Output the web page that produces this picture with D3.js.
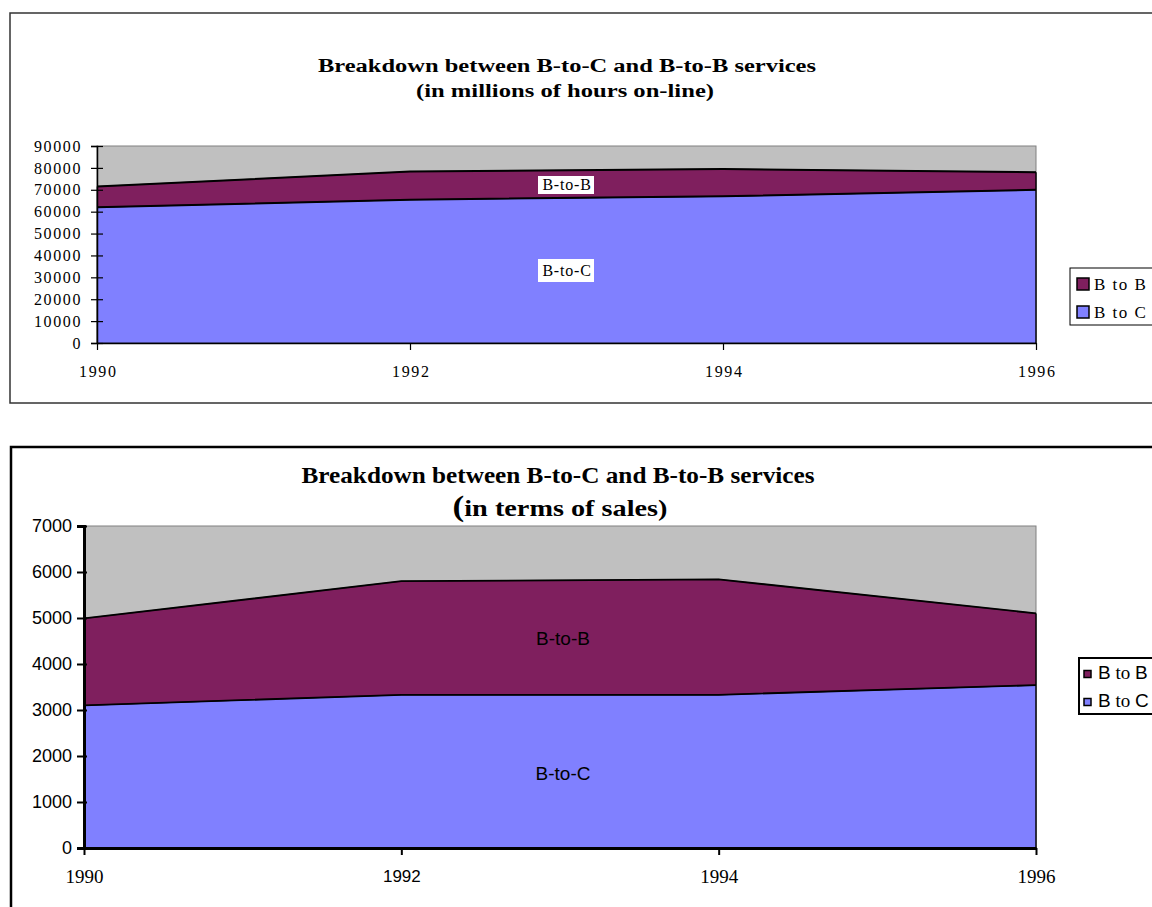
<!DOCTYPE html>
<html>
<head>
<meta charset="utf-8">
<script src="https://cdn.jsdelivr.net/npm/d3@7/dist/d3.min.js"></script>
<style>
  html, body { margin: 0; padding: 0; background: #fff; }
  svg { display: block; }
</style>
</head>
<body>
<svg id="chart" width="1152" height="907"></svg>
<script>
// Years shown on both charts
const years = ["1990", "1992", "1994", "1996"];

// Hours on-line (millions)
const hoursB2C = [62000, 65500, 67000, 70000];
const hoursB2B = [9500, 12800, 12500, 8000];
const hoursTicks = [0, 10000, 20000, 30000, 40000, 50000, 60000, 70000, 80000, 90000];

// Sales
const salesB2C = [3100, 3330, 3330, 3540];
const salesB2B = [1890, 2470, 2510, 1560];
const salesTicks = [0, 1000, 2000, 3000, 4000, 5000, 6000, 7000];

const seriesKeys = ["B to C", "B to B"];
const colors = { "B to C": "#8080ff", "B to B": "#7f1f5e" };
const plotBg = "#c0c0c0";

const SERIF = "'Liberation Serif', 'Times New Roman', serif";
const SANS = "'Liberation Sans', Arial, sans-serif";

const svg = d3.select("#chart");

function rows(b2c, b2b) {
  return years.map((y, i) => ({ year: y, "B to C": b2c[i], "B to B": b2b[i] }));
}

function drawChart(cfg) {
  const g = svg.append("g");

  // outer frame
  g.append("rect")
    .attr("x", cfg.frame.x).attr("y", cfg.frame.y)
    .attr("width", cfg.frame.w).attr("height", cfg.frame.h)
    .attr("fill", "none").attr("stroke", cfg.frame.stroke)
    .attr("stroke-width", cfg.frame.sw);

  const x = d3.scalePoint().domain(years).range([cfg.plot.x0, cfg.plot.x1]);
  const y = d3.scaleLinear().domain([0, cfg.yMax]).range([cfg.plot.y1, cfg.plot.y0]);

  // plot area background
  g.append("rect")
    .attr("x", cfg.plot.x0).attr("y", cfg.plot.y0)
    .attr("width", cfg.plot.x1 - cfg.plot.x0).attr("height", cfg.plot.y1 - cfg.plot.y0)
    .attr("fill", plotBg).attr("stroke", "#808080").attr("stroke-width", 1);

  const data = rows(cfg.b2c, cfg.b2b);
  const stacked = d3.stack().keys(seriesKeys)(data);

  const area = d3.area()
    .x(d => x(d.data.year))
    .y0(d => y(d[0]))
    .y1(d => y(d[1]));

  g.selectAll("path.layer").data(stacked).join("path")
    .attr("class", "layer")
    .attr("d", area)
    .attr("fill", d => colors[d.key])
    .attr("stroke", "#000").attr("stroke-width", 0.6);

  const line = d3.line().x(d => x(d.data.year)).y(d => y(d[1]));
  g.selectAll("path.edge").data(stacked).join("path")
    .attr("class", "edge")
    .attr("d", line)
    .attr("fill", "none").attr("stroke", "#000").attr("stroke-width", cfg.edgeWidth);

  // right edge of the filled region
  const last = data[data.length - 1];
  g.append("line")
    .attr("x1", x(last.year)).attr("x2", x(last.year))
    .attr("y1", y(0)).attr("y2", y(last["B to C"] + last["B to B"]))
    .attr("stroke", "#000").attr("stroke-width", 1.2);

  // y axis
  const yAxis = g.append("g")
    .attr("transform", `translate(${cfg.plot.x0},0)`)
    .call(d3.axisLeft(y).tickValues(cfg.ticks).tickSize(cfg.tickLen).tickPadding(cfg.yPad).tickFormat(d3.format("d")));
  yAxis.select(".domain").attr("stroke", "#000").attr("stroke-width", cfg.axisWidth);
  yAxis.selectAll(".tick line").attr("x1", -cfg.tickLen).attr("x2", cfg.tickCross)
    .attr("stroke", "#000").attr("stroke-width", cfg.tickWidth);
  yAxis.selectAll(".tick text")
    .attr("font-family", cfg.yFont).attr("font-size", cfg.yFontSize)
    .attr("letter-spacing", cfg.ySpacing).attr("fill", "#000");

  // x axis
  const xAxis = g.append("g")
    .attr("transform", `translate(0,${cfg.plot.y1})`)
    .call(d3.axisBottom(x).tickSize(cfg.xTickLen).tickPadding(cfg.xPad).tickSizeOuter(0));
  xAxis.select(".domain").attr("stroke", "#000").attr("stroke-width", cfg.axisWidth);
  xAxis.selectAll(".tick line").attr("stroke", "#000").attr("stroke-width", cfg.tickWidth);
  xAxis.selectAll(".tick text")
    .attr("font-family", d => cfg.xFont(d).family)
    .attr("font-size", d => cfg.xFont(d).size)
    .attr("letter-spacing", cfg.xSpacing)
    .attr("dx", cfg.xSpacing / 2)
    .attr("fill", "#000");

  // titles
  cfg.titles.forEach(t => {
    const txt = g.append("text")
      .attr("x", t.x).attr("y", t.y)
      .attr("text-anchor", "middle")
      .attr("font-family", SERIF).attr("font-weight", "bold")
      .attr("font-size", t.size)
      .attr("textLength", t.len).attr("lengthAdjust", "spacingAndGlyphs");
    t.parts.forEach(p => {
      txt.append("tspan").attr("font-size", p.size || t.size).text(p.text);
    });
  });

  // in-plot labels
  cfg.labels.forEach(l => {
    if (l.box) {
      g.append("rect")
        .attr("x", l.box.x).attr("y", l.box.y).attr("width", l.box.w).attr("height", l.box.h)
        .attr("fill", "#fff");
    }
    g.append("text")
      .attr("x", l.x).attr("y", l.y)
      .attr("text-anchor", "middle")
      .attr("font-family", l.font).attr("font-size", l.size)
      .attr("letter-spacing", l.spacing || 0)
      .attr("fill", "#000")
      .text(l.text);
  });

  // legend
  const lg = cfg.legend;
  g.append("rect")
    .attr("x", lg.x).attr("y", lg.y).attr("width", lg.w).attr("height", lg.h)
    .attr("fill", "#fff").attr("stroke", "#000").attr("stroke-width", lg.sw);
  const order = ["B to B", "B to C"];
  order.forEach((k, i) => {
    const cy = lg.y + lg.rowY[i];
    g.append("rect")
      .attr("x", lg.x + lg.swX).attr("y", cy - lg.sw2 / 2 - lg.swOff)
      .attr("width", lg.sw2).attr("height", lg.sw2)
      .attr("fill", colors[k]).attr("stroke", "#000").attr("stroke-width", lg.swStroke);
    const t = g.append("text")
      .attr("x", lg.x + lg.textX).attr("y", cy + lg.baseline)
      .attr("font-size", lg.size).attr("letter-spacing", lg.spacing || 0).attr("fill", "#000");
    lg.parts(k).forEach(p => {
      t.append("tspan").attr("font-family", p.font).attr("font-size", p.size || lg.size).text(p.text);
    });
  });
}

// Chart 1: hours on-line
drawChart({
  frame: { x: 10, y: 13, w: 1160, h: 390, stroke: "#333", sw: 1.5 },
  plot: { x0: 97, x1: 1036, y0: 146, y1: 343 },
  yMax: 90000,
  ticks: hoursTicks,
  b2c: hoursB2C, b2b: hoursB2B,
  edgeWidth: 2,
  axisWidth: 1.5, tickWidth: 1.2,
  tickLen: 6, tickCross: 6, yPad: 9,
  yFont: SERIF, yFontSize: 16, ySpacing: 1.6,
  xTickLen: 7, xPad: 16, xSpacing: 1.6,
  xFont: () => ({ family: SERIF, size: 16 }),
  titles: [
    { parts: [{ text: "Breakdown between B-to-C and B-to-B  services" }], x: 567, y: 72, size: 18, len: 498 },
    { parts: [{ text: "(in millions of hours on-line)" }], x: 565, y: 97, size: 18, len: 298 }
  ],
  labels: [
    { text: "B-to-B", x: 567, y: 190, font: SERIF, size: 16, spacing: 0.8, box: { x: 538, y: 176, w: 56, h: 18 } },
    { text: "B-to-C", x: 567, y: 276, font: SERIF, size: 16, spacing: 0.8, box: { x: 538, y: 259, w: 56, h: 23 } }
  ],
  legend: {
    x: 1070, y: 268, w: 100, h: 57, sw: 1,
    rowY: [16, 44], swX: 7, sw2: 12, swOff: 0, swStroke: 1.5,
    textX: 24, baseline: 6, size: 17, spacing: 1.5,
    parts: k => [{ font: SERIF, text: k }]
  }
});

// Chart 2: sales
drawChart({
  frame: { x: 11, y: 447, w: 1160, h: 480, stroke: "#000", sw: 2.5 },
  plot: { x0: 84, x1: 1036, y0: 526, y1: 848 },
  yMax: 7000,
  ticks: salesTicks,
  b2c: salesB2C, b2b: salesB2B,
  edgeWidth: 1.8,
  axisWidth: 3, tickWidth: 2,
  tickLen: 7, tickCross: 3, yPad: 5,
  yFont: SANS, yFontSize: 18, ySpacing: 0,
  xTickLen: 7, xPad: 15, xSpacing: 0,
  xFont: d => (d === "1992" ? { family: SANS, size: 17 } : { family: SERIF, size: 19 }),
  titles: [
    { parts: [{ text: "Breakdown between B-to-C and B-to-B  services" }], x: 558, y: 483, size: 24, len: 513 },
    { parts: [{ text: "(", size: 30 }, { text: "in terms of sales)" }], x: 560, y: 516, size: 24, len: 215 }
  ],
  labels: [
    { text: "B-to-B", x: 563, y: 645, font: SANS, size: 19 },
    { text: "B-to-C", x: 563, y: 780, font: SANS, size: 19 }
  ],
  legend: {
    x: 1079, y: 658, w: 100, h: 56, sw: 2,
    rowY: [14, 42], swX: 5, sw2: 7, swOff: -2, swStroke: 1.5,
    textX: 19, baseline: 7, size: 19,
    parts: k => {
      const p = k.split(" ");
      return [{ font: SANS, text: p[0] }, { font: SERIF, text: " " + p[1] + " " }, { font: SANS, text: p[2] }];
    }
  }
});
</script>
</body>
</html>
